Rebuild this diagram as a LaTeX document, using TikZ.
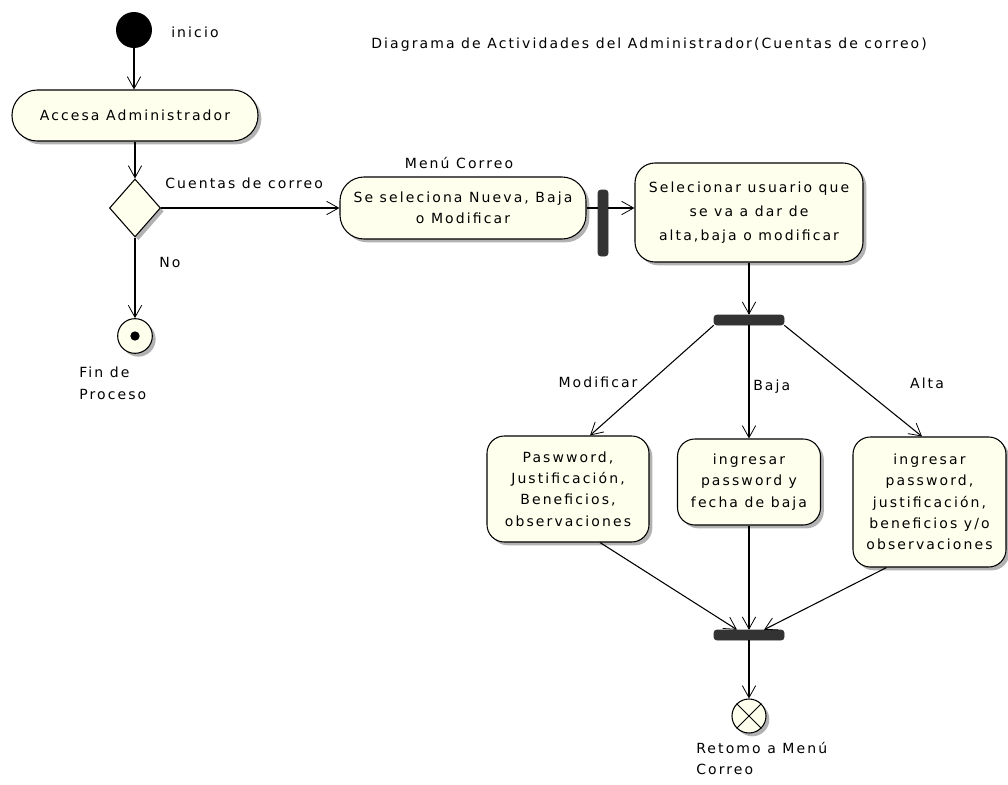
\documentclass[tikz,border=0pt]{standalone}
\usepackage{fontspec}
\setmainfont{DejaVu Sans}[LetterSpace=15]
\usetikzlibrary{arrows.meta,shapes.geometric,shadows,calc}
\definecolor{actfill}{HTML}{FFFFEE}
\definecolor{barfill}{HTML}{333333}
\tikzset{
  diag/.style={x=0.75pt,y=-0.75pt,
    every node/.style={font=\fontsize{10.5}{16}\selectfont}},
  softshadow/.style={drop shadow={shadow xshift=2.5pt,shadow yshift=-2.5pt,fill=black!30,opacity=1}},
  actbox/.style={draw,line width=0.8pt,fill=actfill,align=center,inner sep=2pt,softshadow},
  syncbar/.style={fill=barfill,rounded corners=2pt,inner sep=0pt,draw=barfill},
  flow/.style={line width=0.8pt,-{Straight Barb[length=9pt,width=10pt,line width=0.6pt]}},
  plainflow/.style={line width=0.8pt},
  lbl/.style={inner sep=0pt},
}
\begin{document}
\begin{tikzpicture}[diag]
\useasboundingbox (0,0) rectangle (1008,785);

% initial and final states
\node[circle,fill=black,minimum size=27pt,inner sep=0pt] (start) at (134,30) {};
\node[circle,draw,line width=0.8pt,fill=actfill,minimum size=26pt,inner sep=0pt,softshadow] (fin) at (135,336) {};
\fill (fin.center) circle (3.5pt);
\node[circle,draw,line width=0.8pt,fill=actfill,minimum size=25.5pt,inner sep=0pt,softshadow] (ret) at (749,716) {};
\draw[line width=0.7pt] (ret.45) -- (ret.225) (ret.135) -- (ret.315);

% activities
\node[actbox,rounded corners=19pt,minimum width=184.5pt,minimum height=38.25pt] (acc) at (135,115.5) {Accesa Administrador};
\node[actbox,shape=diamond,rounded corners=0pt,minimum width=38.25pt,minimum height=43.5pt,inner sep=0pt] (dec) at (135,208) {};
\node[actbox,rounded corners=18pt,minimum width=184.5pt,minimum height=46.5pt] (menu) at (463,208) {Se seleciona Nueva, Baja\\o Modificar};
\node[actbox,rounded corners=15pt,minimum width=171pt,minimum height=74.25pt,font=\fontsize{10.5}{18}\selectfont] (sel) at (749,212.5) {Selecionar usuario que\\se va a dar de\\alta,baja o modificar};
\node[actbox,rounded corners=13pt,minimum width=121.5pt,minimum height=79.5pt] (modif) at (568,489) {Paswword,\\Justificación,\\Beneficios,\\observaciones};
\node[actbox,rounded corners=13pt,minimum width=107.25pt,minimum height=64.5pt] (baja) at (749,482) {ingresar\\password y\\fecha de baja};
\node[actbox,rounded corners=13pt,minimum width=114.75pt,minimum height=97.5pt] (alta) at (929.5,502) {ingresar\\password,\\justificación,\\beneficios y/o\\observaciones};

% synchronisation bars
\node[syncbar,minimum width=7.5pt,minimum height=49.5pt] (forkv) at (603,223) {};
\node[syncbar,minimum width=52.5pt,minimum height=7.5pt] (fork) at (749,320) {};
\node[syncbar,minimum width=52.5pt,minimum height=7.5pt] (join) at (749,635) {};

% transitions
\draw[flow] (start) -- (start |- acc.north);
\draw[flow] (acc) -- (dec);
\draw[flow] (dec) -- (fin);
\draw[flow] (dec.east) -- (menu.west);
\draw[plainflow] (menu.east) -- (forkv.west |- menu.east);
\draw[flow] (forkv.east |- menu.east) -- (sel.west |- menu.east);
\draw[flow] (sel.south) -- (fork.north);
\draw[flow] (fork.south west) -- ($(modif.north)+(22,0)$);
\draw[flow] (fork.south) -- (baja.north);
\draw[flow] (fork.south east) -- ($(alta.north)+(-7.5,0)$);
\draw[flow] ($(modif.south)+(32,0)$) -- ($(join.north)+(-12,0)$);
\draw[flow] (baja.south) -- (join.north);
\draw[flow] ($(alta.south)+(-43,0)$) -- ($(join.north)+(15,0)$);
\draw[flow] (join.south) -- (ret.north);

% labels
\node[lbl,anchor=west] (tinicio) at (171,32) {inicio};
\node[lbl,anchor=west] (title) at (371,45) {Diagrama de Actividades del Administrador(Cuentas de correo)};
\node[lbl,anchor=west] (tcuentas) at (165,183) {Cuentas de correo};
\node[lbl] (tmenu) at (459,163) {Menú Correo};
\node[lbl,anchor=west] (tno) at (159,262) {No};
\node[lbl,anchor=north west,align=left] (tfin) at (79,367) {Fin de\\Proceso};
\node[lbl] (tmod) at (598,382) {Modificar};
\node[lbl,anchor=west] (tbaja) at (753,387) {Baja};
\node[lbl] (talta) at (927,383) {Alta};
\node[lbl,anchor=north west,align=left] (tret) at (696,742) {Retomo a Menú\\Correo};
\end{tikzpicture}
\end{document}
